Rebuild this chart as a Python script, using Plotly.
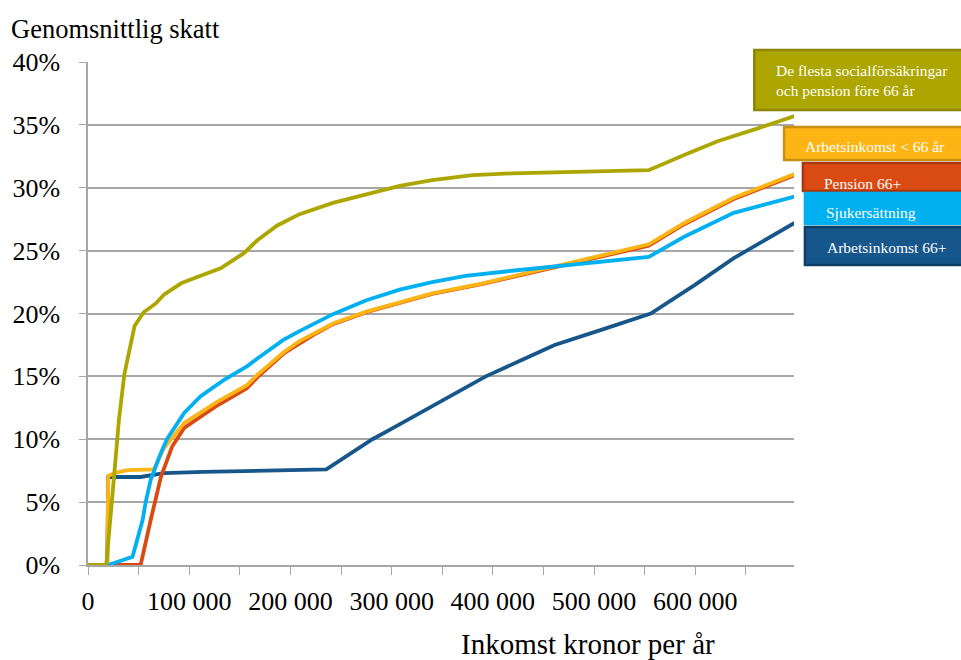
import plotly.graph_objects as go

# ---- data (income in kronor per year, average tax in %) ----
x_flesta = [0, 18000, 25500, 30500, 36000, 46000, 55000, 67000, 75000, 92000, 108000, 131000, 154000,
            167000, 187000, 209000, 242000, 275000, 308000, 340000, 380000, 419000, 554000, 589000,
            622000, 661000, 698000]
y_flesta = [0, 0, 6.8, 11.5, 15.2, 19.0, 20.1, 20.8, 21.5, 22.4, 22.9, 23.6, 24.8,
            25.8, 27.0, 27.9, 28.8, 29.5, 30.15, 30.6, 31.0, 31.15, 31.4, 32.6,
            33.7, 34.7, 35.7]

x_arb = [0, 19000, 20000, 28000, 39000, 65000, 75000, 95000, 128000, 157000, 167000, 193000, 209000,
         226000, 242000, 275000, 308000, 340000, 390000, 554000, 589000, 638000, 698000]
y_arb = [0, 0, 7.1, 7.35, 7.55, 7.6, 9.3, 11.3, 13.0, 14.3, 15.1, 16.9, 17.8,
         18.5, 19.2, 20.15, 20.9, 21.6, 22.4, 25.5, 27.2, 29.2, 31.1]

x_pens = [0, 52000, 62000, 72000, 83000, 95000, 128000, 157000, 167000, 193000, 226000, 242000,
          275000, 308000, 340000, 390000, 554000, 589000, 638000, 698000]
y_pens = [0, 0, 3.6, 7.0, 9.4, 10.9, 12.7, 14.05, 14.9, 16.8, 18.45, 19.15,
          20.1, 20.85, 21.55, 22.35, 25.4, 27.1, 29.1, 31.0]

x_sjuk = [0, 20000, 44000, 54000, 57000, 62000, 72000, 78000, 95000, 111000, 134000, 157000, 167000,
          193000, 209000, 226000, 242000, 275000, 308000, 340000, 373000, 419000, 554000, 589000,
          638000, 698000]
y_sjuk = [0, 0, 0.66, 3.6, 5.0, 6.8, 8.9, 10.0, 12.1, 13.4, 14.7, 15.8, 16.4,
          17.9, 18.6, 19.3, 19.95, 21.05, 21.9, 22.5, 23.0, 23.4, 24.5, 26.1,
          28.0, 29.3]

x_arb66 = [0, 19000, 20000, 52000, 75000, 114000, 235500, 265000, 281000, 298000, 330000, 363000,
           393000, 428500, 461000, 507000, 556000, 600000, 638000, 698000]
y_arb66 = [0, 0, 7.0, 7.0, 7.3, 7.4, 7.6, 9.15, 10.0, 10.75, 12.2, 13.65,
           15.0, 16.3, 17.5, 18.7, 20.0, 22.3, 24.4, 27.2]

x_tickvals = list(range(0, 650001, 50000))
x_ticktext = ["0", "", "100 000", "", "200 000", "", "300 000", "", "400 000", "", "500 000", "", "600 000", ""]
y_tickvals = [0, 5, 10, 15, 20, 25, 30, 35, 40]
y_ticktext = ["0%", "5%", "10%", "15%", "20%", "25%", "30%", "35%", "40%"]

labels = ["De flesta socialförsäkringar<br>och pension före 66 år", "Arbetsinkomst < 66 år",
          "Pension 66+", "Sjukersättning", "Arbetsinkomst 66+"]

# ---- styling ----
C_OLIVE = "#ADA600"
C_ORANGE = "#FDB515"
C_RED = "#DA4B14"
C_LBLUE = "#00B0F0"
C_DBLUE = "#17568A"
GRID = "#A6A6A6"
FONT = "Liberation Serif, Times New Roman, serif"

W, H = 961, 660
L, R, T, B = 83, 167, 62, 95
PW, PH = W - L - R, H - T - B


def px(x):
    return (x - L) / PW


def py(y):
    return (H - B - y) / PH


fig = go.Figure()
series = [
    (x_arb66, y_arb66, C_DBLUE, labels[4]),
    (x_pens, y_pens, C_RED, labels[2]),
    (x_arb, y_arb, C_ORANGE, labels[1]),
    (x_sjuk, y_sjuk, C_LBLUE, labels[3]),
    (x_flesta, y_flesta, C_OLIVE, labels[0]),
]
for xs, ys, col, name in series:
    fig.add_trace(go.Scatter(x=xs, y=ys, mode="lines", name=name,
                             line=dict(color=col, width=3.8), showlegend=False))

fig.update_layout(
    width=W, height=H,
    margin=dict(l=L, r=R, t=T, b=B),
    paper_bgcolor="white", plot_bgcolor="white",
    font=dict(family=FONT, color="black"),
    xaxis=dict(range=[0, 697500], tickvals=x_tickvals, ticktext=x_ticktext,
               showgrid=False, zeroline=False, showline=True, linecolor=GRID, linewidth=1.5,
               ticks="outside", ticklen=8, tickcolor=GRID, tickwidth=1.3,
               tickfont=dict(family=FONT, size=26, color="black"), ticklabelstandoff=4),
    yaxis=dict(range=[0, 40], tickvals=y_tickvals, ticktext=y_ticktext,
               showgrid=True, gridcolor=GRID, gridwidth=1.5, zeroline=False,
               showline=True, linecolor=GRID, linewidth=1.5,
               ticks="outside", ticklen=7, tickcolor=GRID, tickwidth=1.3,
               tickfont=dict(family=FONT, size=26, color="black"), ticklabelstandoff=14),
)

# axis titles
fig.add_annotation(text="Genomsnittlig skatt", xref="paper", yref="paper", x=px(3), y=py(29),
                   xanchor="left", yanchor="middle", showarrow=False,
                   font=dict(family=FONT, size=26.5, color="black"))
fig.add_annotation(text="Inkomst kronor per år", xref="paper", yref="paper", x=px(587), y=py(644),
                   xanchor="center", yanchor="middle", showarrow=False,
                   font=dict(family=FONT, size=29, color="black"))

# legend boxes: (x0, y0, y1, fill, border, text, text_x, text_y)
boxes = [
    (754, 50, 110, C_OLIVE, "#8C8600", labels[0], 774, 80),
    (784, 127, 160, C_ORANGE, "#C98F10", labels[1], 803, 146),
    (803, 163, 191, C_RED, "#A8380C", labels[2], 822, 183),
    (805, 193, 224, C_LBLUE, "#00B0F0", labels[3], 824, 213),
    (805, 227, 265, C_DBLUE, "#0E3D66", labels[4], 825, 248),
]
for x0, y0, y1, fill, border, txt, tx, ty in boxes:
    fig.add_shape(type="rect", xref="paper", yref="paper", x0=px(x0), x1=px(975),
                  y0=py(y1), y1=py(y0), fillcolor=fill, line=dict(color=border, width=2.5), layer="above")
    fig.add_annotation(text=txt, xref="paper", yref="paper", x=px(tx), y=py(ty),
                       xanchor="left", yanchor="middle", align="left", showarrow=False,
                       font=dict(family=FONT, size=15.5, color="white"))

fig.write_html("out.html", config={"displayModeBar": False},
               post_script="document.body.style.margin='0';")
